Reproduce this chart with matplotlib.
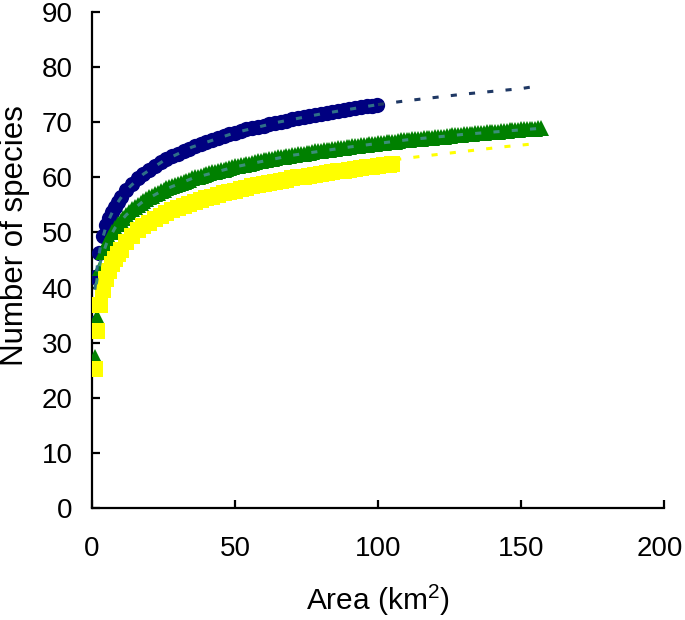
import matplotlib
matplotlib.use("Agg")
import matplotlib.pyplot as plt
from matplotlib.transforms import ScaledTranslation

plt.rcParams['font.family'] = ['Liberation Sans', 'DejaVu Sans']
plt.rcParams['mathtext.fontset'] = 'custom'
plt.rcParams['mathtext.rm'] = 'Liberation Sans'
plt.rcParams['mathtext.it'] = 'Liberation Sans:italic'
plt.rcParams['mathtext.default'] = 'regular'

blue_area = [0.5, 1, 2.5, 4, 5, 6, 7, 8, 9, 10, 12, 14, 16, 18, 20, 22, 24, 26, 28, 30,
             32, 34, 36, 38, 40, 42, 44, 46, 48, 50, 52, 54, 56, 58, 60, 62, 64, 66, 68, 70,
             72, 74, 76, 78, 80, 82, 84, 86, 88, 90, 92, 94, 96, 98, 99.5]
blue_species = [33.5, 42.0, 46.3, 49.4, 51.3, 52.6, 53.8, 54.7, 55.6, 56.4, 57.7, 58.8, 59.8, 60.6,
                61.4, 62.1, 62.7, 63.3, 63.8, 64.3, 64.8, 65.2, 65.6, 66.0, 66.4, 66.8, 67.1,
                67.5, 67.8, 68.1, 68.4, 68.7, 68.9, 69.2, 69.4, 69.7, 69.9, 70.1, 70.3, 70.6,
                70.8, 71.0, 71.2, 71.4, 71.5, 71.7, 71.9, 72.1, 72.2, 72.4, 72.6, 72.7, 72.9,
                73.0, 73.1]

green_area = [1, 1.6, 2.8, 4, 5, 6, 7, 8, 9, 10, 11, 12, 13, 14, 15, 16, 17, 18, 19, 20,
              21, 22, 23, 24, 25, 26, 27, 28, 29, 30, 31, 32, 33, 34, 35, 36, 37, 38, 39, 40,
              41, 42, 43, 44, 45, 46, 47, 48, 49, 50, 51, 52, 53, 54, 55, 56, 57, 58, 59, 60,
              61, 62, 63, 64, 65, 66, 67, 68, 69, 70, 71, 72, 73, 74, 75, 76, 77, 78, 79, 80,
              81, 82, 83, 84, 85, 86, 87, 88, 89, 90, 91, 92, 93, 94, 95, 96, 97, 98, 99, 100,
              101, 102, 103, 104, 105, 106, 107, 108, 109, 110, 111, 112, 113, 114, 115, 116,
              117, 118, 119, 120, 121, 122, 123, 124, 125, 126, 127, 128, 129, 130, 131, 132,
              133, 134, 135, 136, 137, 138, 139, 140, 141, 142, 143, 144, 145, 146, 147, 148,
              149, 150, 151, 152, 153, 154, 155, 156, 157]
green_species = [27.4, 34.7, 43.5, 46.5, 47.9, 49.0, 50.0, 50.8, 51.5, 52.1, 52.7, 53.2, 53.7,
                 54.2, 54.6, 55.0, 55.4, 55.7, 56.1, 56.4, 56.7, 56.9, 57.2, 57.5, 57.7, 58.0,
                 58.2, 58.4, 58.6, 58.8, 59.0, 59.2, 59.4, 59.6, 59.8, 60.0, 60.1, 60.3, 60.4,
                 60.6, 60.7, 60.9, 61.0, 61.2, 61.3, 61.4, 61.6, 61.7, 61.8, 62.0, 62.1, 62.2,
                 62.3, 62.4, 62.5, 62.6, 62.8, 62.9, 63.0, 63.1, 63.2, 63.3, 63.4, 63.5, 63.6,
                 63.6, 63.7, 63.8, 63.9, 64.0, 64.1, 64.2, 64.3, 64.3, 64.4, 64.5, 64.6, 64.7,
                 64.7, 64.8, 64.9, 65.0, 65.0, 65.1, 65.2, 65.3, 65.3, 65.4, 65.5, 65.5, 65.6,
                 65.7, 65.7, 65.8, 65.9, 65.9, 66.0, 66.1, 66.1, 66.2, 66.2, 66.3, 66.4, 66.4,
                 66.5, 66.5, 66.6, 66.7, 66.7, 66.8, 66.8, 66.9, 66.9, 67.0, 67.0, 67.1, 67.1,
                 67.2, 67.2, 67.3, 67.3, 67.4, 67.4, 67.5, 67.5, 67.6, 67.6, 67.7, 67.7, 67.8,
                 67.8, 67.9, 67.9, 68.0, 68.0, 68.1, 68.1, 68.2, 68.2, 68.2, 68.3, 68.3, 68.4,
                 68.4, 68.4, 68.5, 68.5, 68.6, 68.6, 68.7, 68.7, 68.7, 68.8, 68.8, 68.8, 68.9,
                 68.9]

yellow_area = [1, 1.6, 2.8, 4, 5, 6, 7, 8, 9, 10, 12, 14, 16, 18, 20, 22, 24, 26, 28, 30,
               32, 34, 36, 38, 40, 42, 44, 46, 48, 50, 52, 54, 56, 58, 60, 62, 64, 66, 68, 70,
               72, 74, 76, 78, 80, 82, 84, 86, 88, 90, 92, 94, 96, 98, 100, 102, 104, 105]
yellow_species = [25.3, 32.2, 36.8, 39.5, 41.5, 43.0, 44.2, 45.2, 46.0, 46.8, 48.2, 49.4, 50.4,
                  51.2, 51.8, 52.4, 53.0, 53.5, 54.0, 54.4, 54.8, 55.2, 55.6, 55.9, 56.2, 56.5,
                  56.8, 57.1, 57.4, 57.6, 57.9, 58.1, 58.4, 58.6, 58.8, 59.0, 59.2, 59.4, 59.6,
                  59.8, 60.0, 60.1, 60.3, 60.5, 60.6, 60.8, 60.9, 61.1, 61.2, 61.4, 61.5, 61.7,
                  61.8, 61.9, 62.1, 62.2, 62.3, 62.4]

# ---- fitted curves ----
blue_fit_area = [1, 2, 3, 5, 8, 12, 18, 25, 35, 50, 65, 80, 100]
blue_fit_species = [39.6, 44.6, 47.6, 51.3, 54.7, 57.7, 60.6, 63.0, 65.5, 68.1, 70.0, 71.5, 73.2]
blue_ext_area = [100, 110, 120, 130, 140, 150, 155]
blue_ext_species = [73.2, 73.9, 74.5, 75.1, 75.6, 76.1, 76.5]

green_fit_area = [1.5, 2, 3, 5, 8, 12, 18, 25, 35, 50, 70, 90, 110, 130, 157]
green_fit_species = [40.6, 42.3, 44.8, 47.9, 50.8, 53.2, 55.7, 57.7, 59.8, 61.9, 64.0, 65.5,
                     66.8, 67.8, 68.9]

yellow_ext_area = [106, 115, 125, 135, 145, 155]
yellow_ext_species = [63.2, 63.8, 64.4, 65.0, 65.6, 66.1]

x_ticks = [0, 50, 100, 150, 200]
y_ticks = [0, 10, 20, 30, 40, 50, 60, 70, 80, 90]

# ---- figure ----
fig = plt.figure(figsize=(6.85, 6.2), dpi=100)
ax = fig.add_axes([92 / 685, 1 - 508 / 620, 572 / 685, 496 / 620])

ax.plot(blue_area, blue_species, linestyle='none', marker='o', markersize=11,
        color='#000080', markeredgewidth=0, zorder=3)
ax.plot(green_area, green_species, linestyle='none', marker='^', markersize=12,
        color='#008000', markeredgewidth=0, zorder=4)
ax.plot(yellow_area, yellow_species, linestyle='none', marker='s', markersize=11.5,
        color='#FFFF00', markeredgewidth=0, zorder=5)

dash = (0, (2.0, 4.0))
ax.plot(blue_fit_area, blue_fit_species, linestyle=dash, color='#2f6f88', lw=2.2,
        dash_capstyle='butt', zorder=6)
ax.plot(blue_ext_area, blue_ext_species, linestyle=dash, color='#1f3864', lw=2.2,
        dash_capstyle='butt', zorder=6)
ax.plot(green_fit_area, green_fit_species, linestyle=dash, color='#3a8f78', lw=2.2,
        dash_capstyle='butt', zorder=6)
ax.plot(yellow_ext_area, yellow_ext_species, linestyle=dash, color='#FFFF00', lw=2.2,
        dash_capstyle='butt', zorder=6)

ax.set_xlim(0, 200)
ax.set_ylim(0, 90)
ax.set_xticks(x_ticks)
ax.set_yticks(y_ticks)
ax.spines['top'].set_visible(False)
ax.spines['right'].set_visible(False)
for s in ('left', 'bottom'):
    ax.spines[s].set_linewidth(1.6)
    ax.spines[s].set_color('black')
    ax.spines[s].set_clip_on(False)
ax.tick_params(axis='both', direction='in', length=6, width=1.6, labelsize=20, color='black')
ax.tick_params(axis='x', pad=20)
ax.tick_params(axis='y', pad=14)

# keep the last x tick label inside the figure edge
last = ax.get_xticklabels()[-1]
last.set_transform(last.get_transform() + ScaledTranslation(-3 / 72, 0, fig.dpi_scale_trans))

ax.set_xlabel('Area (km$^{2}$)', fontsize=21.5, labelpad=15)
ax.set_ylabel('Number of species', fontsize=22.5)
ax.yaxis.set_label_coords(-0.108, 0.55)

fig.savefig('out.png', dpi=100)
